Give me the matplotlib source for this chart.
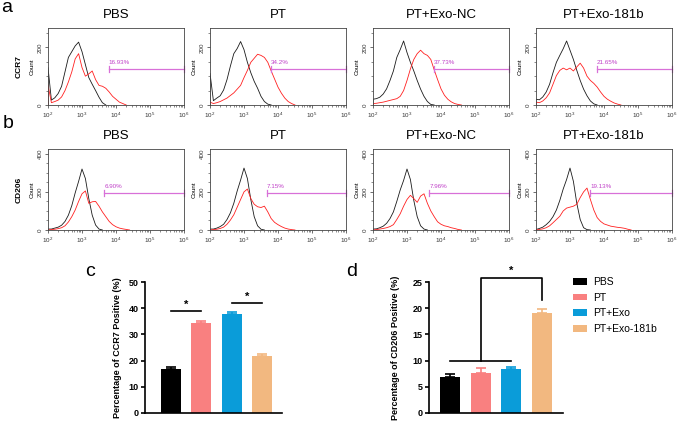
import matplotlib
matplotlib.use('Agg')
import matplotlib.pyplot as plt
from matplotlib.patches import Patch
from matplotlib.ticker import LogLocator, NullFormatter, MultipleLocator

plt.rcParams['font.family'] = ['Liberation Sans', 'DejaVu Sans']
plt.rcParams['mathtext.fontset'] = 'custom'
plt.rcParams['mathtext.rm'] = 'Liberation Sans'

# ---- flow cytometry histograms (log10 intensity bins, counts)
LOG_X = [2.0, 2.1, 2.2, 2.3, 2.4, 2.5, 2.6, 2.7, 2.8, 2.9, 3.0, 3.1, 3.2, 3.3, 3.4,
         3.5, 3.6, 3.7, 3.8, 3.9, 4.0, 4.1, 4.2, 4.3, 4.4, 4.5, 4.6, 4.7, 4.8]
FLOW_GROUPS = ['PBS', 'PT', 'PT+Exo-NC', 'PT+Exo-181b']

CCR7_PCT = ['16.93%', '34.2%', '37.73%', '21.65%']
CCR7_GATE_START = [3.78, 3.80, 3.79, 3.79]
CCR7_CTRL = [
    [130, 17, 25, 40, 65, 115, 165, 185, 205, 218, 185, 140, 95, 72, 50, 27, 8, 0],
    [110, 15, 24, 32, 52, 88, 135, 178, 196, 220, 192, 148, 112, 82, 58, 30, 12, 3, 0],
    [20, 22, 27, 38, 56, 85, 118, 165, 192, 222, 182, 148, 118, 85, 55, 30, 12, 2, 0],
    [20, 18, 28, 45, 72, 112, 148, 172, 195, 222, 190, 158, 120, 85, 55, 32, 14, 4, 0],
]
CCR7_STAIN = [
    [70, 8, 12, 17, 28, 50, 80, 115, 160, 178, 130, 100, 108, 118, 88, 68, 65, 58, 45,
     30, 20, 10, 5, 0],
    [10, 5, 8, 12, 18, 24, 33, 42, 55, 68, 95, 120, 148, 162, 176, 172, 165, 148, 118,
     90, 62, 41, 24, 12, 5, 0],
    [5, 6, 8, 10, 13, 16, 19, 22, 30, 50, 85, 125, 158, 178, 190, 178, 172, 158, 122,
     88, 56, 34, 20, 11, 5, 2, 0],
    [10, 8, 14, 25, 42, 72, 102, 120, 128, 122, 128, 118, 132, 145, 128, 100, 85, 75,
     62, 45, 30, 20, 13, 7, 3, 0],
]

CD206_PCT = ['6.90%', '7.15%', '7.96%', '19.13%']
CD206_GATE_START = [3.66, 3.67, 3.66, 3.60]
CD206_CTRL = [
    [5, 5, 10, 15, 25, 45, 78, 128, 195, 255, 320, 270, 165, 78, 26, 5, 0],
    [5, 5, 10, 18, 30, 55, 90, 140, 205, 262, 325, 270, 160, 70, 22, 4, 0],
    [5, 6, 12, 20, 35, 60, 95, 150, 210, 260, 320, 265, 155, 70, 22, 5, 0],
    [3, 8, 15, 28, 45, 70, 105, 155, 215, 265, 325, 255, 140, 55, 12, 2, 0],
]
CD206_STAIN = [
    [0, 2, 4, 7, 12, 22, 42, 70, 105, 150, 190, 205, 140, 148, 150, 125, 95, 70, 45,
     28, 17, 10, 6, 3, 0],
    [0, 2, 4, 8, 15, 30, 52, 80, 120, 160, 200, 215, 165, 135, 122, 118, 125, 95, 60,
     40, 28, 18, 10, 5, 2, 0],
    [0, 2, 5, 8, 12, 18, 28, 55, 85, 125, 160, 182, 165, 145, 178, 190, 140, 100, 70,
     43, 30, 22, 18, 12, 8, 3, 0],
    [0, 3, 6, 12, 22, 38, 55, 72, 100, 115, 120, 125, 135, 170, 200, 220, 160, 105, 65,
     45, 32, 26, 20, 17, 14, 12, 9, 4, 0],
]

# ---- bar charts
BAR_GROUPS = ['PBS', 'PT', 'PT+Exo', 'PT+Exo-181b']
BAR_COLORS = ['#000000', '#F98080', '#0A9CD9', '#F2B880']
CCR7_MEAN = [16.8, 34.5, 37.8, 21.6]
CCR7_SEM = [0.8, 0.8, 0.8, 1.0]
CD206_MEAN = [6.8, 7.7, 8.4, 19.1]
CD206_SEM = [0.7, 0.8, 0.4, 0.7]

W, H = 685, 424
fig = plt.figure(figsize=(W / 100, H / 100), dpi=100)


def px_axes(x0, y0, x1, y1):
    return fig.add_axes([x0 / W, 1 - y1 / H, (x1 - x0) / W, (y1 - y0) / H])


def flow_panel(ax, ctrl, stain, pct, gate_x, gate_y, ymax, yticks, label_y):
    xs = [10 ** v for v in LOG_X]
    ax.plot([xs[0]] + xs[:len(ctrl)], [0] + ctrl, color='#1a1a1a', lw=0.6)
    ax.plot([xs[0]] + xs[:len(stain)], [0] + stain, color='#ff2020', lw=0.6)
    ax.set_xscale('log')
    ax.set_xlim(1e2, 1e6)
    ax.set_ylim(0, ymax)
    ax.plot([10 ** gate_x, 1e6], [gate_y, gate_y], color='#d870d8', lw=0.9,
            clip_on=False)
    for gx in (10 ** gate_x, 1e6):
        ax.plot([gx, gx], [gate_y - ymax * 0.04, gate_y + ymax * 0.04],
                color='#d870d8', lw=0.9, clip_on=False)
    ax.text(10 ** gate_x, label_y, pct, color='#c040c8', fontsize=4.5,
            ha='left', va='bottom')
    ax.set_xticks([1e2, 1e3, 1e4, 1e5, 1e6])
    ax.set_xticklabels(['$10^{2}$', '$10^{3}$', '$10^{4}$', '$10^{5}$', '$10^{6}$'])
    ax.xaxis.set_minor_locator(LogLocator(base=10, subs=range(2, 10), numticks=20))
    ax.xaxis.set_minor_formatter(NullFormatter())
    ax.set_yticks(yticks)
    ax.set_yticklabels([str(t) for t in yticks], rotation=90, va='center')
    ax.yaxis.set_minor_locator(MultipleLocator(50))
    ax.tick_params(axis='both', which='major', labelsize=4.5, length=2.5,
                   width=0.5, pad=1.5, colors='#333333')
    ax.tick_params(axis='both', which='minor', length=1.5, width=0.4,
                   colors='#333333')
    ax.set_ylabel('Count', fontsize=4.5, labelpad=2)
    for s in ax.spines.values():
        s.set_linewidth(0.6)
        s.set_color('#444444')


lefts = [48, 210, 373, 536]
for i, name in enumerate(FLOW_GROUPS):
    ax = px_axes(lefts[i], 28, lefts[i] + 136, 105)
    flow_panel(ax, CCR7_CTRL[i], CCR7_STAIN[i], CCR7_PCT[i], CCR7_GATE_START[i],
               125, 267, [0, 200], 140)
    ax.set_title(name, fontsize=9.5, pad=7)
    ax = px_axes(lefts[i], 149, lefts[i] + 136, 230)
    flow_panel(ax, CD206_CTRL[i], CD206_STAIN[i], CD206_PCT[i], CD206_GATE_START[i],
               195, 425, [0, 200, 400], 215)
    ax.set_title(name, fontsize=9.5, pad=7)

fig.text(19 / W, 1 - 67 / H, 'CCR7', rotation=90, fontsize=6, fontweight='bold',
         ha='center', va='center')
fig.text(19 / W, 1 - 190 / H, 'CD206', rotation=90, fontsize=6, fontweight='bold',
         ha='center', va='center')


def bar_panel(ax, means, sems, ymax, step):
    for i in range(len(means)):
        ax.errorbar(i, means[i], yerr=[[0], [sems[i]]], fmt='none',
                    ecolor=BAR_COLORS[i], elinewidth=1.2, capsize=3.5,
                    capthick=1.2, zorder=1)
    ax.bar(range(len(means)), means, width=0.66, color=BAR_COLORS, zorder=2)
    ax.set_ylim(0, ymax)
    ax.yaxis.set_major_locator(MultipleLocator(step))
    ax.set_xticks([])
    for s in ('top', 'right'):
        ax.spines[s].set_visible(False)
    for s in ('left', 'bottom'):
        ax.spines[s].set_linewidth(1.2)
    ax.tick_params(axis='y', length=3, width=1.2, labelsize=6.5, pad=1.5)
    for t in ax.get_yticklabels():
        t.set_fontweight('bold')


axc = px_axes(145, 282, 282, 413)
bar_panel(axc, CCR7_MEAN, CCR7_SEM, 50, 10)
axc.set_xlim(-0.86, 3.66)
axc.set_ylabel('Percentage of CCR7 Positive (%)', fontsize=6.5, fontweight='bold',
               labelpad=5)
axc.plot([0, 1], [39, 39], color='black', lw=1.2)
axc.text(0.5, 39.5, '*', ha='center', va='bottom', fontsize=8, fontweight='bold')
axc.plot([2, 3], [42, 42], color='black', lw=1.2)
axc.text(2.5, 42.5, '*', ha='center', va='bottom', fontsize=8, fontweight='bold')

axd = px_axes(429, 282, 563, 413)
bar_panel(axd, CD206_MEAN, CD206_SEM, 25, 5)
axd.set_xlim(-0.69, 3.7)
axd.set_ylabel('Percentage of CD206 Positive (%)', fontsize=6.5, fontweight='bold',
               labelpad=9)
axd.plot([0, 2], [10, 10], color='black', lw=1.2)
axd.plot([1, 1, 3, 3], [10, 25.8, 25.8, 21.6], color='black', lw=1.2, clip_on=False)
axd.text(2, 26.2, '*', ha='center', va='bottom', fontsize=8, fontweight='bold')

handles = [Patch(facecolor=c, edgecolor='none') for c in BAR_COLORS]
fig.legend(handles, BAR_GROUPS, loc='upper left', bbox_to_anchor=(573 / W, 1 - 277 / H),
           frameon=False, fontsize=7.5, handlelength=1.35, handleheight=0.6,
           handletextpad=0.6, labelspacing=0.55, borderpad=0, borderaxespad=0)

for lab, x, y in [('a', 7, 7), ('b', 8, 124), ('c', 90, 272), ('d', 352, 271)]:
    fig.text(x / W, 1 - y / H, lab, fontsize=14, ha='center', va='center')

fig.savefig('out.png', dpi=100)
